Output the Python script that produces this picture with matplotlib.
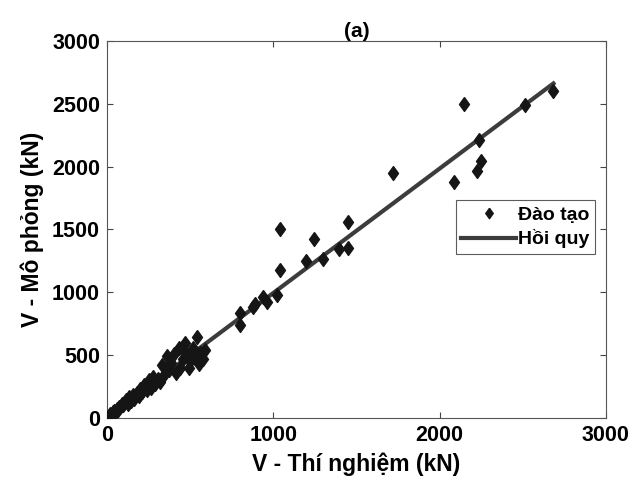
import numpy as np
import matplotlib.pyplot as plt

plt.rcParams['font.family'] = ['Liberation Sans', 'DejaVu Sans']
plt.rcParams['font.weight'] = 'bold'

# du lieu doc tu hinh (kN)
v_thi_nghiem = [
    10, 20, 28, 35, 42, 50, 58, 65, 72, 80, 88, 95, 105, 115, 125, 135,
    145, 155, 165, 178, 190, 200, 212, 225, 238, 250, 262, 275, 290, 305,
    318, 330, 345, 360, 372, 385, 400, 415, 430, 440, 455, 470, 475, 490,
    500, 515, 530, 540, 555, 560, 575, 590,
    800, 800, 880, 890, 940, 960, 1024, 1040, 1040, 1195, 1247, 1297, 1397,
    1447, 1447, 1718, 2087, 2149, 2223, 2237, 2249, 2514, 2684,
]
v_mo_phong = [
    15, 30, 20, 45, 55, 40, 70, 60, 90, 85, 110, 100, 120, 140, 115, 165,
    135, 180, 150, 200, 175, 230, 205, 260, 225, 300, 240, 330, 270, 310,
    290, 420, 340, 490, 380, 440, 510, 360, 560, 400, 470, 595, 520, 400,
    450, 555, 480, 647, 430, 520, 470, 540,
    835, 740, 880, 907, 965, 925, 978, 1504, 1177, 1249, 1422, 1262, 1342,
    1557, 1350, 1952, 1875, 2498, 1968, 2212, 2045, 2490, 2601,
]

# duong hoi quy
he_so_goc = 0.99
he_so_tu_do = 5.0
x_hq = np.array([min(v_thi_nghiem), max(v_thi_nghiem)])
y_hq = he_so_goc * x_hq + he_so_tu_do

# hinh thoi kieu matlab (cao hon rong mot chut)
hinh_thoi = [(0, 1), (0.72, 0), (0, -1), (-0.72, 0), (0, 1)]

fig = plt.figure(figsize=(6.34, 4.92), dpi=100)
ax = fig.add_axes([0.1688, 0.1504, 0.787, 0.7663])

ax.plot(v_thi_nghiem, v_mo_phong, linestyle='none', marker=hinh_thoi,
        color='#151515', markersize=10, label='Đào tạo', zorder=3)
ax.plot(x_hq, y_hq, '-', color='#3c3c3c', lw=3, label='Hồi quy', zorder=2)

ax.set_xlim(0, 3000)
ax.set_ylim(0, 3000)
ax.set_xticks([0, 1000, 2000, 3000])
ax.set_yticks([0, 500, 1000, 1500, 2000, 2500, 3000])
ax.tick_params(direction='in', top=True, right=True, labelsize=15.5, length=4,
               width=0.8, color='#444444', pad=5)
for s in ax.spines.values():
    s.set_color('#555555')
    s.set_linewidth(0.8)

ax.set_xlabel('V - Thí nghiệm (kN)', fontsize=16.5, fontweight='bold', labelpad=5)
ax.set_ylabel('V - Mô phỏng (kN)', fontsize=16.5, fontweight='bold', labelpad=6)
ax.set_title('(a)', fontsize=15, fontweight='bold', pad=3)

leg = ax.legend(loc='upper right', bbox_to_anchor=(0.978, 0.578), fontsize=14,
                frameon=True, fancybox=False, edgecolor='#333333',
                handlelength=2.8, borderpad=0.3, labelspacing=0.3,
                handletextpad=0.1, borderaxespad=0, markerscale=0.75)
leg.get_frame().set_linewidth(0.8)

fig.savefig('out.png', dpi=100)
